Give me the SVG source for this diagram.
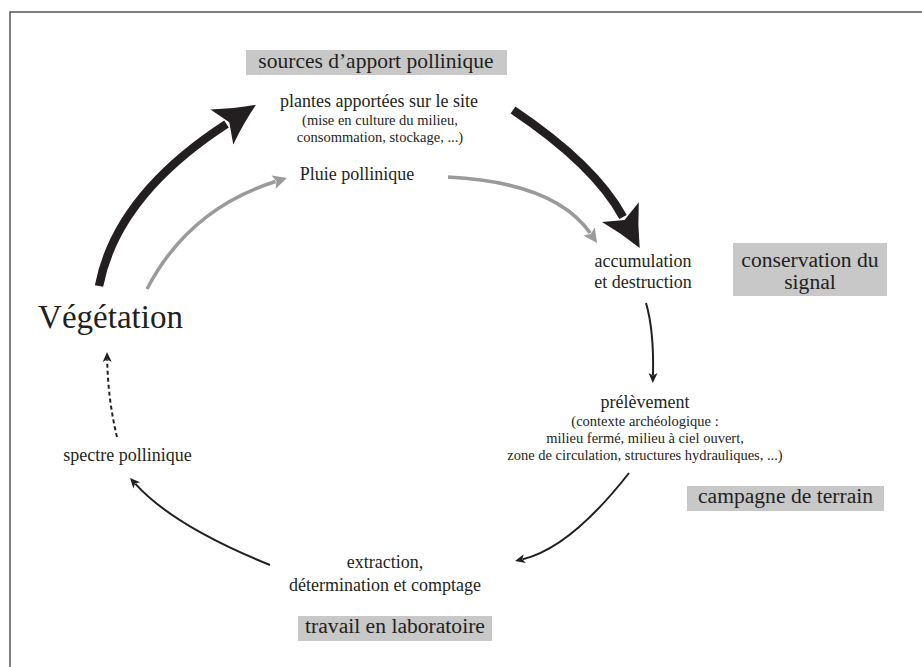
<svg xmlns="http://www.w3.org/2000/svg" width="922" height="667" viewBox="0 0 922 667">
<style>
text{fill:#231f20;text-anchor:middle;font-family:"Times New Roman",Tinos,"Liberation Serif","Noto Serif","DejaVu Serif",serif}
.t18{font-size:18px}
.t14{font-size:14.5px}
.t22{font-size:21.6px}
.box{fill:#c8c8c8}
.thick{fill:none;stroke:#231f20;stroke-width:8.5}
.grey{fill:none;stroke:#9a9a9a;stroke-width:3.5}
.thin{fill:none;stroke:#231f20;stroke-width:2}
.dash{fill:none;stroke:#231f20;stroke-width:2;stroke-dasharray:4 3}
</style>
<defs>
<marker id="hBig" markerUnits="userSpaceOnUse" markerWidth="44" markerHeight="44" viewBox="0 -20 40 40" refX="5" refY="0" orient="auto" overflow="visible">
<path d="M37,0 Q18,-8 0,-19 L8,0 L0,19 Q18,8 37,0 Z" fill="#231f20"/>
</marker>
<marker id="hGrey" markerUnits="userSpaceOnUse" markerWidth="16" markerHeight="16" viewBox="0 -8 16 16" refX="2" refY="0" orient="auto" overflow="visible">
<path d="M14,0 L0,-7 L3,0 L0,7 Z" fill="#9a9a9a"/>
</marker>
<marker id="hThin" markerUnits="userSpaceOnUse" markerWidth="12" markerHeight="12" viewBox="0 -6 12 12" refX="2" refY="0" orient="auto" overflow="visible">
<path d="M10,0 L0,-4.5 L2.5,0 L0,4.5 Z" fill="#231f20"/>
</marker>
</defs>
<rect width="922" height="667" fill="#fff"/>
<path d="M10 667 V12 H922" fill="none" stroke="#555" stroke-width="1.5"/>

<g id="connectors">
<path class="thick" d="M99 286 Q116.5 195.5 226.5 124" marker-end="url(#hBig)"/>
<path class="grey" d="M147 289 Q188.75 208.75 275.5 181.5" marker-end="url(#hGrey)"/>
<path class="thick" d="M513 110 Q595 165 623 217" marker-end="url(#hBig)"/>
<path class="grey" d="M448 177 Q554.6 182.4 590.2 233.1" marker-end="url(#hGrey)"/>
<path class="thin" d="M646 303 Q654 330 653 375" marker-end="url(#hThin)"/>
<path class="thin" d="M629 473 Q570.5 547.7 522.8 559.2" marker-end="url(#hThin)"/>
<path class="thin" d="M270 565 Q173.5 526 135.4 483.9" marker-end="url(#hThin)"/>
<path class="dash" d="M117 437 Q108 400 107.2 360" marker-end="url(#hThin)"/>
</g>

<g id="sources">
<rect class="box" x="246" y="50" width="261" height="25"/>
<text x="376" y="68" font-size="21.5">sources d’apport pollinique</text>
</g>
<g id="plantes">
<text class="t18" x="379" y="107">plantes apportées sur le site</text>
<text class="t14" x="380" y="125">(mise en culture du milieu,</text>
<text class="t14" x="380" y="142">consommation, stockage, ...)</text>
</g>
<g id="pluie">
<text class="t18" x="357" y="180">Pluie pollinique</text>
</g>
<g id="accumulation">
<text class="t18" x="643" y="267">accumulation</text>
<text class="t18" x="643" y="288">et destruction</text>
</g>
<g id="conservation">
<rect class="box" x="733" y="243" width="154" height="53"/>
<text class="t22" x="810" y="267">conservation du</text>
<text class="t22" x="810" y="289">signal</text>
</g>
<g id="prelevement">
<text class="t18" x="645" y="408">prélèvement</text>
<text class="t14" x="645" y="426">(contexte archéologique :</text>
<text class="t14" x="645" y="443">milieu fermé, milieu à ciel ouvert,</text>
<text class="t14" x="645" y="460">zone de circulation, structures hydrauliques, ...)</text>
</g>
<g id="campagne">
<rect class="box" x="687" y="486" width="197" height="25"/>
<text class="t22" x="785.5" y="503">campagne de terrain</text>
</g>
<g id="extraction">
<text class="t18" x="385" y="568">extraction,</text>
<text class="t18" x="385" y="591">détermination et comptage</text>
</g>
<g id="laboratoire">
<rect class="box" x="298" y="616" width="194" height="25"/>
<text class="t22" x="395" y="633">travail en laboratoire</text>
</g>
<g id="spectre">
<text class="t18" x="127.5" y="461">spectre pollinique</text>
</g>
<g id="vegetation">
<text x="110.5" y="328" font-size="33">Végétation</text>
</g>
</svg>
